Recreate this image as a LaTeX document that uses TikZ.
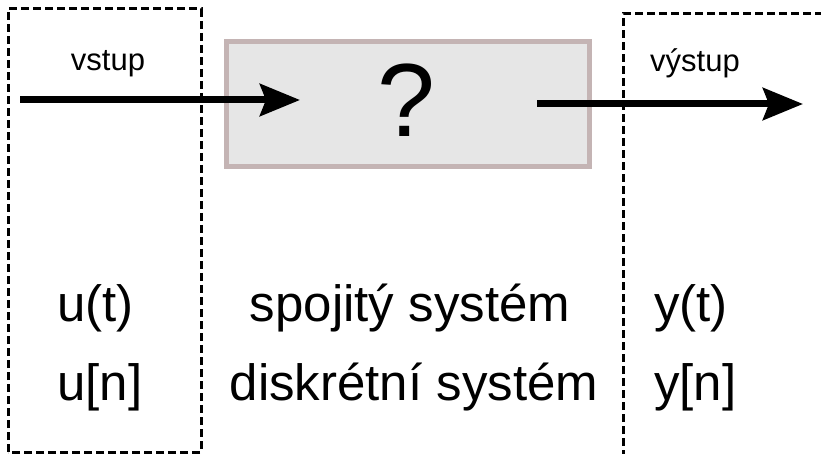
\documentclass[tikz,border=0pt]{standalone}
\usepackage{fontspec}
\setmainfont{Liberation Sans}
\usetikzlibrary{arrows.meta}
\begin{document}
\begin{tikzpicture}[x=1pt,y=-1pt,
  dashbox/.style={line width=3pt, dash pattern=on 8pt off 4pt},
  sysbox/.style={draw={rgb,255:red,196;green,180;blue,180}, fill={rgb,255:red,230;green,230;blue,230}, line width=5pt},
  sig/.style={line width=7pt, -{Stealth[length=40pt,width=32pt,inset=6pt]}},
  big/.style={font=\fontsize{51}{56}\selectfont, inner sep=0pt},
  small/.style={font=\fontsize{31}{36}\selectfont, inner sep=0pt}]
\useasboundingbox (0,0) rectangle (821,454);
% dashed boxes
\draw[dashbox] (8,452) -- (8,9) -- (201,9) -- (201,452) -- cycle;
\draw[dashbox] (623,470) -- (623,14) -- (840,14);
% system box
\draw[sysbox] (226,42) rectangle (589,167);
\node[font=\fontsize{104}{110}\selectfont, inner sep=0pt, anchor=base] (q) at (406,137) {?};
% arrows
\coordinate (inS) at (20,100);
\coordinate (inE) at (300,100);
\coordinate (outS) at (537,104);
\coordinate (outE) at (803,104);
\draw[sig] (inS) -- (inE);
\draw[sig] (outS) -- (outE);
% labels
\node[small, anchor=base] (vin) at (108,71) {vstup};
\node[small, anchor=base west] (vout) at (650,72) {výstup};
\node[big, anchor=base west] (ut) at (57,321) {u(t)};
\node[big, anchor=base west] (un) at (57,400) {u[n]};
\node[big, anchor=base] (sc) at (410,321) {spojitý systém};
\node[big, anchor=base] (sd) at (414,400) {diskrétní systém};
\node[big, anchor=base west] (yt) at (654,321) {y(t)};
\node[big, anchor=base west] (yn) at (654,400) {y[n]};
\end{tikzpicture}
\end{document}
